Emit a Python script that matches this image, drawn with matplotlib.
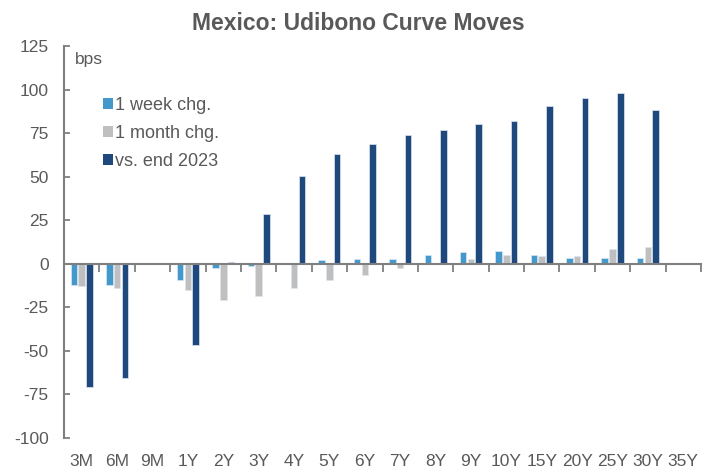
import matplotlib
matplotlib.use("Agg")
import matplotlib.pyplot as plt
import matplotlib.transforms as mtransforms
from matplotlib.patches import Patch
import numpy as np

categories = ["3M", "6M", "9M", "1Y", "2Y", "3Y", "4Y", "5Y", "6Y", "7Y",
              "8Y", "9Y", "10Y", "15Y", "20Y", "25Y", "30Y", "35Y"]
week_chg = [-12.2, -12.0, np.nan, -9.4, -2.3, -1.5, 0.5, 2.3, 2.9, 2.9,
            5.2, 6.7, 7.5, 5.2, 3.6, 3.6, 3.6, np.nan]
month_chg = [-13.0, -14.0, np.nan, -15.3, -20.7, -18.4, -14.0, -9.2, -6.3, -2.7,
             0.3, 2.9, 5.3, 4.4, 4.4, 8.2, 9.8, np.nan]
vs_end_2023 = [-70.8, -65.4, np.nan, -46.7, 0.8, 28.8, 50.2, 63.2, 68.5, 74.0,
               77.0, 80.0, 82.0, 90.5, 95.0, 98.2, 88.2, np.nan]
series_names = ["1 week chg.", "1 month chg.", "vs. end 2023"]
colors = ["#4399CC", "#BFBFBF", "#1F497D"]
yticks = [-100, -75, -50, -25, 0, 25, 50, 75, 100, 125]

plt.rcParams['font.family'] = ['Liberation Sans', 'DejaVu Sans']
txt = "#595959"
axc = "#7F7F7F"
fs = 12.5

fig = plt.figure(figsize=(7.17, 4.75), dpi=100)
ax = fig.add_axes([64/717, 1-438/475, (701-64)/717, (438-46)/475])

x = np.arange(len(categories))
bw = 0.185
step = 0.22
for i, (vals, c, name) in enumerate(zip([week_chg, month_chg, vs_end_2023], colors, series_names)):
    ax.bar(x + (i-1)*step, vals, width=bw, color=c, edgecolor="#DCE6F0", linewidth=0.5, label=name, zorder=2)

ax.set_xlim(-0.5, len(categories)-0.5)
ax.set_ylim(-100, 125)
ax.set_yticks(yticks)
ax.set_yticklabels([str(v) for v in yticks], color=txt, fontsize=fs)
ax.tick_params(axis='y', direction='in', length=4, width=1.3, color=axc, pad=11)

for s in ['top', 'right']:
    ax.spines[s].set_visible(False)
ax.spines['left'].set_color(axc)
ax.spines['left'].set_linewidth(1.5)
ax.spines['bottom'].set_position(('data', 0))
ax.spines['bottom'].set_color(axc)
ax.spines['bottom'].set_linewidth(1.5)

ax.set_xticks(np.arange(len(categories)+1) - 0.5)
ax.set_xticklabels([])
ax.tick_params(axis='x', direction='out', length=6, width=1.3, color=axc)

trans = mtransforms.blended_transform_factory(ax.transData, ax.transAxes)
for xi, lab in zip(x, categories):
    ax.text(xi, -0.04, lab, transform=trans, ha='center', va='top', fontsize=fs, color=txt)

ax.text(0.017, 0.985, "bps", transform=ax.transAxes, ha='left', va='top', fontsize=fs, color=txt)

handles = [Patch(facecolor=c, edgecolor='none', label=n) for c, n in zip(colors, series_names)]
leg = ax.legend(handles=handles, loc='upper left', bbox_to_anchor=(0.05, 0.888), frameon=False,
                fontsize=13, handlelength=0.55, handleheight=0.55, handletextpad=0.12, labelspacing=0.6,
                borderaxespad=0)
for t in leg.get_texts():
    t.set_color(txt)

fig.text(0.5, 0.975, "Mexico: Udibono Curve Moves", ha='center', va='top', fontsize=16.5,
         fontweight='bold', color=txt)

fig.savefig("out.png", dpi=100)
